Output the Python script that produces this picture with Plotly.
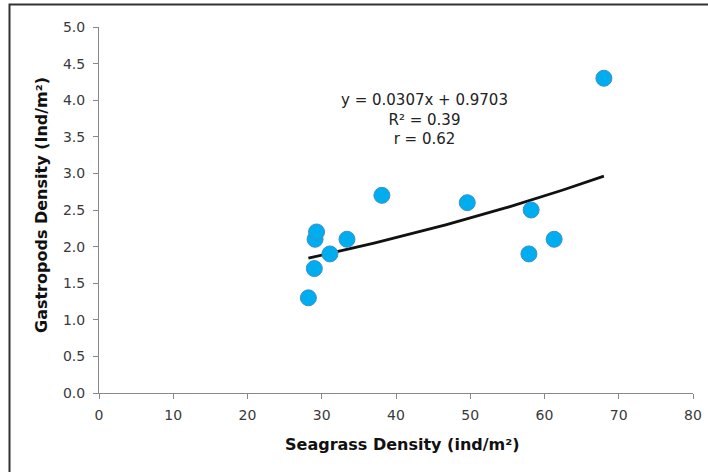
import numpy as np
import plotly.graph_objects as go

# Data
seagrass = [28.2, 29.0, 29.1, 29.3, 31.1, 33.4, 38.1, 49.6, 57.9, 58.2, 61.3, 68.0]
gastropods = [1.3, 1.7, 2.1, 2.2, 1.9, 2.1, 2.7, 2.6, 1.9, 2.5, 2.1, 4.3]
x_ticks = [0, 10, 20, 30, 40, 50, 60, 70, 80]
y_ticks = [0.0, 0.5, 1.0, 1.5, 2.0, 2.5, 3.0, 3.5, 4.0, 4.5, 5.0]
eq_lines = ["y = 0.0307x + 0.9703", "R² = 0.39", "r = 0.62"]

xs = np.array(seagrass)
ys = np.array(gastropods)
# trend curve (exponential fit as drawn in the reference)
b, lna = np.polyfit(xs, np.log(ys), 1)
xt = np.linspace(xs.min(), xs.max(), 100)
yt = np.exp(lna) * np.exp(b * xt)

W, H = 708, 472
L, R, T, B = 99, 15, 27, 79
pw, ph = W - L - R, H - T - B

fig = go.Figure()
fig.add_trace(go.Scatter(x=xt, y=yt, mode="lines",
                         line=dict(color="#111111", width=2.8),
                         hoverinfo="skip", showlegend=False))
fig.add_trace(go.Scatter(x=seagrass, y=gastropods, mode="markers",
                         marker=dict(size=16, color="#00AEEF",
                                     line=dict(color="#3C8FCB", width=1)),
                         showlegend=False))

font_family = "DejaVu Sans"
fig.update_layout(
    width=W, height=H, autosize=False,
    margin=dict(l=L, r=R, t=T, b=B, autoexpand=False),
    paper_bgcolor="white", plot_bgcolor="white",
    font=dict(family=font_family, size=14, color="#3a3a3a"),
    xaxis=dict(range=[0, 80], tickvals=x_ticks, ticktext=[str(v) for v in x_ticks],
               showgrid=False, zeroline=False, showline=True, linecolor="#888888",
               linewidth=1, ticks="outside", ticklen=5, tickcolor="#888888",
               ticklabelstandoff=4, automargin=False,
               tickfont=dict(size=14, color="#3a3a3a"), fixedrange=True),
    yaxis=dict(range=[0, 5], tickvals=y_ticks, ticktext=[f"{v:.1f}" for v in y_ticks],
               showgrid=False, zeroline=False, showline=True, linecolor="#888888",
               linewidth=1, ticks="outside", ticklen=5, tickcolor="#888888",
               ticklabelstandoff=5, automargin=False,
               tickfont=dict(size=14, color="#3a3a3a"), fixedrange=True),
)

# outer chart border
fig.add_shape(type="rect", xref="paper", yref="paper",
              x0=(9.5 - L) / pw, x1=(W + 5 - L) / pw,
              y0=(H - B - (H + 5)) / ph, y1=(H - B - 4.5) / ph,
              line=dict(color="#333333", width=2), fillcolor="rgba(0,0,0,0)", layer="above")

fig.add_annotation(x=43.8, y=3.74, xref="x", yref="y", text="<br>".join(eq_lines),
                   showarrow=False, align="center", xanchor="center", yanchor="middle",
                   font=dict(size=15, color="#222222", family=font_family))

fig.add_annotation(x=(402 - L) / pw, y=(H - B - 444) / ph, xref="paper", yref="paper",
                   text="<b>Seagrass Density (ind/m²)</b>", showarrow=False,
                   xanchor="center", yanchor="middle",
                   font=dict(size=16, color="#111111", family=font_family))
fig.add_annotation(x=(41 - L) / pw, y=(H - B - 205) / ph, xref="paper", yref="paper",
                   text="<b>Gastropods Density (Ind/m²)</b>", showarrow=False, textangle=-90,
                   xanchor="center", yanchor="middle",
                   font=dict(size=16, color="#111111", family=font_family))

fig.write_html("out.html", config={"displayModeBar": False},
               post_script="document.body.style.margin='0';")
